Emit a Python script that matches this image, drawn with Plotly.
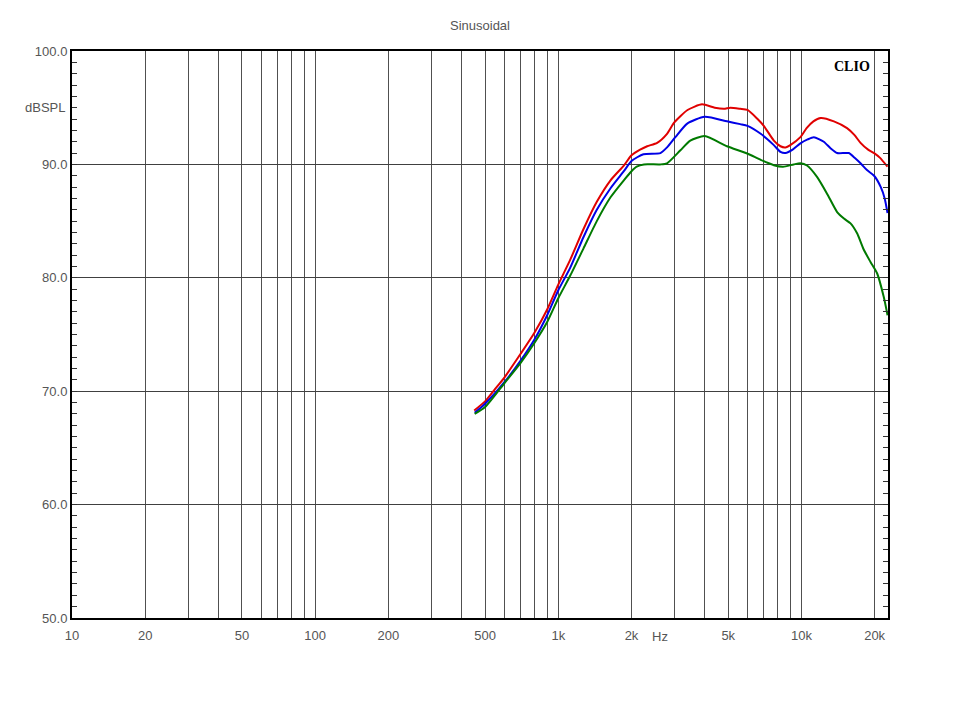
import plotly.graph_objects as go

# ---- data ----
red_hz = [451, 500, 550, 600, 700, 800, 900, 1000, 1120, 1270, 1440, 1640, 1860, 2000, 2170, 2320, 2550,
          2800, 3000, 3400, 3900, 4400, 4800, 5100, 5600, 6000, 6600, 7000, 7700, 8200, 8600, 9000, 9900,
          10500, 11200, 12000, 13600, 15400, 16500, 17500, 18800, 19900, 21000, 22600]
red_db = [68.3, 69.1, 70.2, 71.2, 73.3, 75.2, 77.2, 79.4, 81.6, 84.3, 86.7, 88.6, 89.9, 90.8, 91.3, 91.6, 91.9,
          92.7, 93.7, 94.8, 95.3, 95.0, 94.9, 95.0, 94.9, 94.8, 94.0, 93.4, 92.1, 91.6, 91.5, 91.7, 92.4,
          93.2, 93.8, 94.1, 93.8, 93.2, 92.6, 91.9, 91.3, 91.0, 90.6, 89.8]

blue_hz = [453, 500, 600, 700, 800, 900, 1000, 1120, 1270, 1440, 1640, 1860, 2000, 2240, 2630, 2800, 3030,
           3390, 4000, 4940, 5600, 6000, 6800, 7700, 8200, 8600, 9200, 9900, 10600, 11250, 12360, 13200,
           14020, 15670, 16500, 17500, 18600, 19900, 21200, 22000, 22600]
blue_db = [68.1, 68.9, 70.8, 72.7, 74.6, 76.7, 78.9, 80.9, 83.6, 86.0, 87.9, 89.4, 90.3, 90.9, 91.0, 91.5, 92.4,
           93.6, 94.2, 93.8, 93.55, 93.4, 92.7, 91.7, 91.1, 91.0, 91.3, 91.85, 92.2, 92.4, 92.0, 91.4,
           91.0, 91.0, 90.6, 90.1, 89.5, 89.0, 88.0, 87.0, 85.7]

green_hz = [453, 500, 600, 700, 800, 900, 1000, 1120, 1270, 1440, 1640, 1860, 2000, 2100, 2250, 2630, 2800,
            3180, 3490, 4000, 4940, 5980, 6800, 7700, 8400, 9290, 9900, 10540, 11590, 12760, 14020, 15000,
            15920, 16960, 18030, 19230, 20470, 21810, 22600]
green_db = [68.0, 68.6, 70.7, 72.5, 74.3, 76.1, 78.2, 80.2, 82.6, 85.0, 87.1, 88.6, 89.4, 89.8, 90.0, 90.0, 90.1,
            91.25, 92.1, 92.5, 91.6, 90.96, 90.4, 89.93, 89.8, 90.0, 90.1, 89.9, 88.9, 87.4, 85.8, 85.2,
            84.8, 83.9, 82.5, 81.4, 80.4, 78.3, 76.7]

x_labeled = {10: "10", 20: "20", 50: "50", 100: "100", 200: "200", 500: "500",
             1000: "1k", 2000: "2k", 5000: "5k", 10000: "10k", 20000: "20k"}
x_gridvals = [m * d for d in (10, 100, 1000, 10000) for m in range(1, 10) if m * d <= 20000]
x_ticktext = [x_labeled.get(v, "") for v in x_gridvals]

y_tickvals = [50, 60, 70, 80, 90, 100]
y_ticktext = ["50.0", "60.0", "70.0", "80.0", "90.0", "100.0"]

W, H = 944, 704  # page body has an 8px margin in the 960x720 window

fig = go.Figure()
for hz, db, col in [(red_hz, red_db, "#e00000"), (blue_hz, blue_db, "#0000e6"), (green_hz, green_db, "#007a00")]:
    fig.add_trace(go.Scatter(x=hz, y=db, mode="lines",
                             line=dict(color=col, width=2, shape="spline", smoothing=0.6),
                             showlegend=False, hoverinfo="skip"))

fig.update_layout(
    width=W, height=H,
    margin=dict(l=64, r=W - 880, t=43, b=H - 610, autoexpand=False),
    paper_bgcolor="white", plot_bgcolor="white",
    font=dict(family="Liberation Sans, Arial, sans-serif", size=13, color="#555"),
    title=dict(text="Sinusoidal", x=(480 - 8) / W, xanchor="center", y=1 - (25 - 8) / H, yanchor="middle",
               font=dict(size=13, color="#555")),
)

fig.update_xaxes(
    type="log", range=[1, 4.356],
    tickvals=x_gridvals, ticktext=x_ticktext, ticks="",
    showgrid=True, gridcolor="#505050", gridwidth=1,
    showline=True, linecolor="black", linewidth=2, mirror=True,
    tickfont=dict(size=13, color="#555"), zeroline=False, ticklabelstandoff=4,
)
fig.update_yaxes(
    range=[50, 100], tickvals=y_tickvals, ticktext=y_ticktext,
    ticks="inside", ticklen=5, tickcolor="#333",
    minor=dict(dtick=1, ticks="inside", ticklen=5, tickcolor="#333", showgrid=False),
    showgrid=True, gridcolor="#404040", gridwidth=1,
    showline=True, linecolor="black", linewidth=2, mirror="ticks",
    tickfont=dict(size=13, color="#555"), zeroline=False,
)

fig.add_annotation(text="dBSPL", xref="paper", yref="y", x=0, y=95, xanchor="right", yanchor="middle",
                   xshift=-5, showarrow=False, font=dict(size=13, color="#555"))
fig.add_annotation(text="Hz", xref="x", yref="paper", x=3.42, y=0, xanchor="center", yanchor="top",
                   yshift=-9, showarrow=False, font=dict(size=13, color="#555"))
fig.add_annotation(text="<b>CLIO</b>", xref="paper", yref="paper", x=0.98, y=0.99, xanchor="right",
                   yanchor="top", showarrow=False,
                   font=dict(family="Liberation Serif, DejaVu Serif, serif", size=14, color="black"))

fig.write_html("out.html")
